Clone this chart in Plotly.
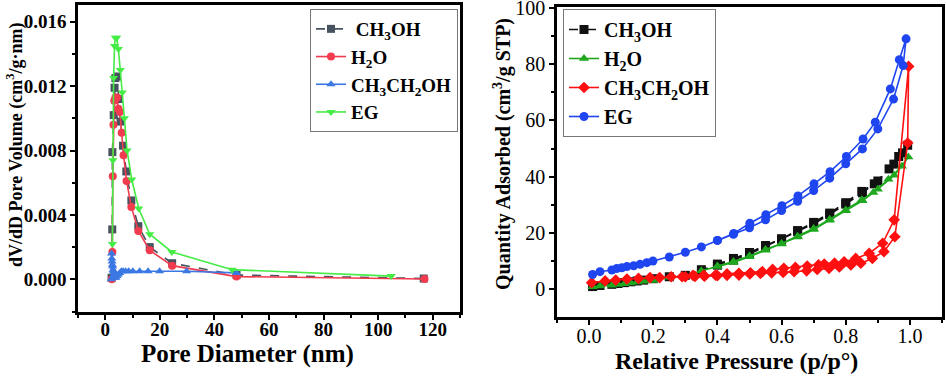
import plotly.graph_objects as go

# left panel: BJH pore size distribution
d_ch3oh = [2.3, 2.55, 2.6, 3.1, 3.4, 3.7, 4.3, 4.9, 5.6, 6.5, 7.7, 9.55, 12.1, 16.3, 24.5, 48.1, 116.7]
v_ch3oh = [0.0001, 0.0031, 0.0079, 0.0102, 0.0119, 0.0125, 0.0126, 0.0112, 0.0098, 0.0083, 0.0067,
           0.0049, 0.0033, 0.0020, 0.0010, 0.00027, 0.00005]
d_h2o = [2.4, 2.6, 2.75, 3.0, 3.3, 3.7, 4.3, 4.8, 5.3, 6.0, 6.7, 7.8, 9.55, 12.1, 16.3, 24.5, 48.1, 117]
v_h2o = [0.0, 0.0017, 0.0064, 0.0096, 0.0111, 0.0113, 0.0113, 0.0106, 0.0104, 0.0091, 0.0077, 0.0061,
         0.0045, 0.0030, 0.0018, 0.00085, 0.00017, 0.00002]
d_etoh = [2.2, 2.3, 2.4, 2.5, 2.6, 2.7, 2.85, 3.0, 3.2, 3.4, 3.6, 3.9, 4.3, 4.8, 5.3, 5.9, 6.6, 7.5,
          8.6, 10.1, 12.6, 15.7, 19.9, 29.8, 48.1]
v_etoh = [0.0, 0.0016, 0.0013, 0.0011, 0.0009, 0.0008, 0.0006, 0.0005, 0.0003, 0.0002, 0.0001, 0.0001,
          0.0002, 0.0003, 0.0004, 0.0005, 0.0005, 0.0005, 0.0005, 0.0005, 0.0005, 0.0005, 0.0005,
          0.0005, 0.0004]
d_eg = [2.6, 2.8, 3.05, 3.4, 3.7, 4.2, 4.8, 5.5, 6.25, 7.0, 8.0, 9.7, 12.25, 16.3, 24.4, 46.5, 104.8]
v_eg = [0.0022, 0.0074, 0.0125, 0.0145, 0.0150, 0.0150, 0.0143, 0.0130, 0.0116, 0.0100, 0.0080,
        0.0062, 0.0044, 0.0028, 0.0017, 0.0006, 0.0002]

# right panel: N2 isotherms (adsorption + desorption branches)
p_ch3oh_ads = [0.011, 0.034, 0.071, 0.09, 0.11, 0.13, 0.15, 0.17, 0.2, 0.25, 0.3, 0.35, 0.4, 0.45,
               0.5, 0.55, 0.6, 0.65, 0.7, 0.75, 0.8, 0.852, 0.889, 0.935, 0.965, 0.993]
q_ch3oh_ads = [1.0, 1.4, 1.8, 2.1, 2.4, 2.7, 3.0, 3.3, 3.8, 4.5, 5.0, 7.0, 8.6, 10.4, 12.6, 15.3,
               17.8, 20.5, 23.3, 26.6, 30.3, 34.3, 37.5, 42.8, 47.2, 51.2]
p_ch3oh_des = [0.977, 0.95, 0.9, 0.85, 0.8, 0.75, 0.7, 0.65, 0.6, 0.55, 0.5, 0.45, 0.4]
q_ch3oh_des = [48.5, 44.5, 38.5, 34.8, 30.8, 27.1, 23.8, 20.9, 18.0, 15.6, 13.1, 11.0, 9.0]

p_h2o_ads = [0.011, 0.034, 0.071, 0.09, 0.11, 0.13, 0.15, 0.17, 0.2, 0.25, 0.3, 0.35, 0.4, 0.45,
             0.5, 0.55, 0.6, 0.65, 0.7, 0.75, 0.8, 0.852, 0.886, 0.933, 0.975, 0.995]
q_h2o_ads = [0.9, 1.2, 1.5, 1.7, 2.0, 2.3, 2.6, 2.9, 3.2, 4.3, 4.8, 6.6, 8.1, 9.6, 11.6, 13.9,
             16.1, 18.6, 21.3, 24.6, 27.9, 31.5, 34.4, 39.1, 43.7, 47.0]
p_h2o_des = [0.951, 0.9, 0.85, 0.8, 0.75, 0.7, 0.65, 0.6, 0.55, 0.5, 0.45, 0.4]
q_h2o_des = [40.5, 35.6, 31.8, 28.2, 24.9, 21.6, 18.9, 16.3, 14.2, 11.9, 9.9, 8.3]

p_etoh_ads = [0.008, 0.05, 0.083, 0.118, 0.154, 0.19, 0.22, 0.256, 0.29, 0.324, 0.357, 0.394, 0.43,
              0.467, 0.503, 0.54, 0.572, 0.607, 0.643, 0.68, 0.715, 0.733, 0.765, 0.795, 0.831,
              0.873, 0.915, 0.951, 0.996]
q_etoh_ads = [2.4, 3.0, 3.3, 3.7, 3.9, 4.2, 4.2, 4.5, 4.5, 5.0, 5.0, 5.1, 5.5, 5.7, 5.9, 6.3, 7.1,
              7.5, 7.8, 8.3, 8.7, 9.0, 9.3, 9.8, 11.0, 12.8, 16.4, 24.7, 79.2]
p_etoh_des = [0.993, 0.953, 0.919, 0.883, 0.847, 0.816, 0.78, 0.748, 0.711, 0.678, 0.639, 0.605,
              0.569, 0.534, 0.501, 0.467, 0.43, 0.4, 0.36, 0.33, 0.3]
q_etoh_des = [52.0, 18.7, 13.4, 11.0, 9.3, 8.7, 8.0, 7.5, 7.1, 6.6, 6.3, 6.0, 5.9, 5.7, 5.5, 5.1,
              5.0, 4.9, 4.7, 4.6, 4.5]

p_eg_ads = [0.011, 0.034, 0.071, 0.086, 0.102, 0.118, 0.139, 0.159, 0.18, 0.199, 0.25, 0.3, 0.35,
            0.4, 0.45, 0.5, 0.55, 0.6, 0.65, 0.7, 0.75, 0.8, 0.852, 0.9, 0.949, 0.979, 0.988]
q_eg_ads = [5.3, 6.3, 6.9, 7.4, 7.7, 8.1, 8.4, 8.9, 9.5, 10.1, 11.5, 13.2, 15.1, 17.4, 19.6, 21.9,
            24.7, 28.0, 31.3, 35.1, 39.5, 44.6, 49.9, 57.0, 67.6, 79.5, 89.0]
p_eg_des = [0.967, 0.939, 0.892, 0.854, 0.802, 0.751, 0.701, 0.651, 0.601, 0.551, 0.501, 0.451, 0.4]
q_eg_des = [81.6, 71.2, 59.4, 53.4, 47.2, 41.8, 37.5, 33.2, 29.7, 26.5, 23.5, 19.9, 17.4]

SERIF = "Liberation Serif, Times New Roman, serif"
W, H = 946, 377

fig = go.Figure()

left = [
    (" CH<sub>3</sub>OH", d_ch3oh, v_ch3oh, "#46525e", "square", "dash"),
    ("H<sub>2</sub>O", d_h2o, v_h2o, "#f23b4e", "circle", "solid"),
    ("CH<sub>3</sub>CH<sub>2</sub>OH", d_etoh, v_etoh, "#3b78e3", "triangle-up", "solid"),
    ("EG", d_eg, v_eg, "#45ec45", "triangle-down", "solid"),
]
for name, x, y, col, sym, dash in left:
    fig.add_trace(go.Scatter(x=x, y=y, name=name, mode="lines+markers",
                             line=dict(color=col, width=1.6, dash=dash),
                             marker=dict(symbol=sym, size=8, color=col),
                             xaxis="x", yaxis="y", legend="legend"))

right = [
    ("CH<sub>3</sub>OH", p_ch3oh_ads, q_ch3oh_ads, p_ch3oh_des, q_ch3oh_des, "#111111", "square", "dash"),
    ("H<sub>2</sub>O", p_h2o_ads, q_h2o_ads, p_h2o_des, q_h2o_des, "#1fa81f", "triangle-up", "solid"),
    ("CH<sub>3</sub>CH<sub>2</sub>OH", p_etoh_ads, q_etoh_ads, p_etoh_des, q_etoh_des, "#ff1010", "diamond", "solid"),
    ("EG", p_eg_ads, q_eg_ads, p_eg_des, q_eg_des, "#1f45f0", "circle", "solid"),
]
for name, pa, qa, pd, qd, col, sym, dash in right:
    fig.add_trace(go.Scatter(x=pa + pd, y=qa + qd, name=name, mode="lines+markers",
                             line=dict(color=col, width=1.6, dash=dash),
                             marker=dict(symbol=sym, size=9, color=col),
                             xaxis="x2", yaxis="y2", legend="legend2"))

axis_common = dict(showline=True, mirror=True, linecolor="black", linewidth=2.5,
                   ticks="outside", ticklen=5, tickwidth=2, tickcolor="black",
                   showgrid=False, zeroline=False, automargin=False,
                   ticklabeloverflow="allow",
                   minor=dict(ticks="outside", ticklen=3, tickwidth=1.5, tickcolor="black"))


def px(x, y):
    return dict(x=x / W, y=1 - y / H, xref="paper", yref="paper")


titles = [
    dict(px(247, 354), text="<b>Pore Diameter (nm)</b>", font=dict(size=25)),
    dict(px(736, 361), text="<b>Relative Pressure (p/p°)</b>", font=dict(size=24)),
    dict(px(15, 145), text="<b>dV/dD Pore Volume (cm<sup>3</sup>/g·nm)</b>", font=dict(size=18),
         textangle=-90),
    dict(px(502, 154), text="<b>Quantity Adsorbed (cm<sup>3</sup>/g STP)</b>", font=dict(size=20),
         textangle=-90),
]
for t in titles:
    t.update(showarrow=False, xanchor="center", yanchor="middle")

fig.update_layout(
    width=W, height=H,
    margin=dict(l=0, r=0, t=0, b=0),
    paper_bgcolor="white", plot_bgcolor="white",
    font=dict(family=SERIF, color="black"),
    annotations=titles,
    xaxis=dict(axis_common, domain=[78 / W, 460 / W], range=[-10, 130], dtick=20, tick0=0,
               minor_dtick=10, anchor="y", ticklabelstandoff=-7,
               tickfont=dict(size=19, family=SERIF, weight="bold")),
    yaxis=dict(axis_common, domain=[1 - 312 / H, 1 - 5 / H], range=[-0.00203, 0.01704], dtick=0.004,
               tick0=0, minor_dtick=0.002, anchor="x", tickformat=".3f",
               tickfont=dict(size=19, family=SERIF, weight="bold")),
    xaxis2=dict(axis_common, domain=[557 / W, 942 / W], range=[-0.1, 1.1], dtick=0.2, tick0=0,
                minor_dtick=0.1, anchor="y2", tickformat=".1f", ticklabelstandoff=-6,
                tickfont=dict(size=20, family=SERIF)),
    yaxis2=dict(axis_common, domain=[1 - 317 / H, 1 - 7 / H], range=[-9.8, 100.3], dtick=20, tick0=0,
                minor_dtick=10, anchor="x2",
                tickfont=dict(size=20, family=SERIF)),
    legend=dict(x=310 / W, y=1 - 9 / H, xanchor="left", yanchor="top", bgcolor="white",
                bordercolor="#777777", borderwidth=1, tracegroupgap=0,
                font=dict(size=19, family=SERIF, weight="bold")),
    legend2=dict(x=563 / W, y=1 - 9 / H, xanchor="left", yanchor="top", bgcolor="white",
                 bordercolor="#777777", borderwidth=1, tracegroupgap=0,
                 font=dict(size=20, family=SERIF, weight="bold")),
)

# drop the browser's default body margin so the figure fills the window exactly
fig.write_html("out.html", config={"displayModeBar": False},
               post_script="document.body.style.margin='0';")
